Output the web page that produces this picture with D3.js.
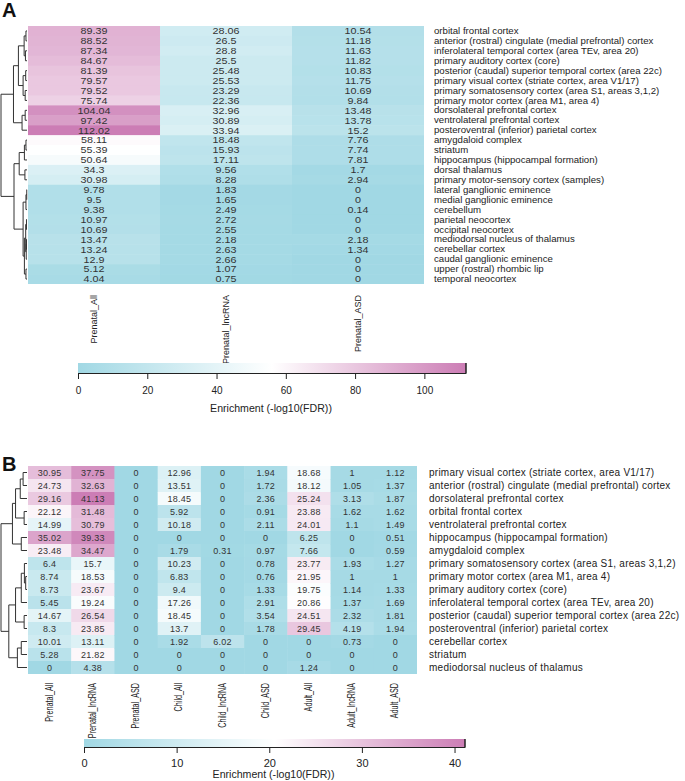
<!DOCTYPE html>
<html><head><meta charset="utf-8">
<script src="https://cdn.jsdelivr.net/npm/d3@7"></script>
<style>body{margin:0;background:#fff}svg{display:block;font-family:"Liberation Sans",Arial,sans-serif}</style>
</head><body><svg id="c" width="685" height="781"></svg>
<script>
// ---------- Panel A data ----------
const rowsA = ["orbital frontal cortex","anterior (rostral) cingulate (medial prefrontal) cortex","inferolateral temporal cortex (area TEv, area 20)","primary auditory cortex (core)","posterior (caudal) superior temporal cortex (area 22c)","primary visual cortex (striate cortex, area V1/17)","primary somatosensory cortex (area S1, areas 3,1,2)","primary motor cortex (area M1, area 4)","dorsolateral prefrontal cortex","ventrolateral prefrontal cortex","posteroventral (inferior) parietal cortex","amygdaloid complex","striatum","hippocampus (hippocampal formation)","dorsal thalamus","primary motor-sensory cortex (samples)","lateral ganglionic eminence","medial ganglionic eminence","cerebellum","parietal neocortex","occipital neocortex","mediodorsal nucleus of thalamus","cerebellar cortex","caudal ganglionic eminence","upper (rostral) rhombic lip","temporal neocortex"];
const colsA = ["Prenatal_All","Prenatal_lncRNA","Prenatal_ASD"];
const prenatalAllA = [89.39,88.52,87.34,84.67,81.39,79.57,79.52,75.74,104.04,97.42,112.02,58.11,55.39,50.64,34.3,30.98,9.78,9.5,9.38,10.97,10.69,13.47,13.24,12.9,5.12,4.04];
const prenatalLncA = [28.06,26.5,28.8,25.5,25.48,25.53,23.29,22.36,32.96,30.89,33.94,18.48,15.93,17.11,9.56,8.28,1.83,1.65,2.49,2.72,2.55,2.18,2.63,2.66,1.07,0.75];
const prenatalAsdA = [10.54,11.18,11.63,11.82,10.83,11.75,10.69,9.84,13.48,13.78,15.2,7.76,7.74,7.81,1.7,2.94,0,0,0.14,0,0,2.18,1.34,0,0,0];
const ticksA = [0,20,40,60,80,100];
// dendrogram: [mergeHeight, left, right], leaves = row index
const treeA = [1.0,
  [0.52,
    [0.33, [0.11,[0.04,0,1],[0.06,2,3]], [0.15,[0.05,4,5],[0.07,6,7]]],
    [0.19, [0.07,8,9], 10]],
  [0.5,
    [0.3, [0.1,[0.04,11,12],13], [0.08,14,15]],
    [0.15, [0.04,[0.01,16,17],18], [0.1,[0.05,[0.02,19,20],[0.03,[0.02,21,22],23]],[0.04,24,25]]]]];

// ---------- Panel B data ----------
const rowsB = ["primary visual cortex (striate cortex, area V1/17)","anterior (rostral) cingulate (medial prefrontal) cortex","dorsolateral prefrontal cortex","orbital frontal cortex","ventrolateral prefrontal cortex","hippocampus (hippocampal formation)","amygdaloid complex","primary somatosensory cortex (area S1, areas 3,1,2)","primary motor cortex (area M1, area 4)","primary auditory cortex (core)","inferolateral temporal cortex (area TEv, area 20)","posterior (caudal) superior temporal cortex (area 22c)","posteroventral (inferior) parietal cortex","cerebellar cortex","striatum","mediodorsal nucleus of thalamus"];
const colsB = ["Prenatal_All","Prenatal_lncRNA","Prenatal_ASD","Child_All","Child_lncRNA","Child_ASD","Adult_All","Adult_lncRNA","Adult_ASD"];
const prenatalAllB = [30.95,24.73,29.16,22.12,14.99,35.02,23.48,6.4,8.74,8.73,5.45,14.67,8.3,10.01,5.28,0];
const prenatalLncB = [37.75,32.63,41.13,31.48,30.79,39.33,34.47,15.7,18.53,23.67,19.24,26.54,23.85,13.11,21.82,4.38];
const prenatalAsdB = [0,0,0,0,0,0,0,0,0,0,0,0,0,0,0,0];
const childAllB = [12.96,13.51,18.45,5.92,10.18,0,1.79,10.23,6.83,9.4,17.26,18.45,13.7,1.92,0,0];
const childLncB = [0,0,0,0,0,0,0.31,0,0,0,0,0,0,6.02,0,0];
const childAsdB = [1.94,1.72,2.36,0.91,2.11,0,0.97,0.78,0.76,1.33,2.91,3.54,1.78,0,0,0];
const adultAllB = [18.68,18.12,25.24,23.88,24.01,6.25,7.66,23.77,21.95,19.75,20.86,24.51,29.45,0,0,1.24];
const adultLncB = [1,1.05,3.13,1.62,1.1,0,0,1.93,1,1.14,1.37,2.32,4.19,0.73,0,0];
const adultAsdB = [1.12,1.37,1.87,1.62,1.49,0.51,0.59,1.27,1,1.33,1.69,1.81,1.94,0,0,0];
const ticksB = [0,10,20,30,40];
const treeB = [1.0,
  [0.56,
    [0.44, [0.26,[0.15,0,1],2], [0.11,3,4]],
    [0.22,5,6]],
  [0.7,
    [0.44, [0.22,[0.1,7,[0.05,8,9]],10], [0.11,11,12]],
    [0.37, [0.22,13,14], 15]]];

// ---------- drawing ----------
const svg = d3.select("#c");
const LOW = "#a1d8e4", MID = "#ffffff", HIGH = "#cc7db5";

function drawPanel(o, id) {
  const g = svg.append("g");
  const x = d3.scaleBand().domain(o.cols).range([o.x0, o.x1]);
  const y = d3.scaleBand().domain(d3.range(o.rows.length)).range([o.y0, o.y1]);
  const max = d3.max(o.series.flat());
  const color = d3.scaleLinear().domain([0, max / 2, max]).range([LOW, MID, HIGH]);

  o.cols.forEach((c, j) => {
    const gc = g.append("g");
    gc.selectAll("rect").data(o.series[j]).join("rect")
      .attr("x", x(c)).attr("y", (d, i) => y(i))
      .attr("width", x.bandwidth() + (j < o.cols.length - 1 ? 0.5 : 0))
      .attr("height", (d, i) => y.bandwidth() + (i < o.rows.length - 1 ? 0.5 : 0))
      .attr("fill", d => color(d));
    gc.selectAll("text").data(o.series[j]).join("text")
      .attr("transform", (d, i) => `translate(${x(c) + x.bandwidth() / 2},${y(i) + y.bandwidth() / 2}) scale(${o.valSX},1)`)
      .attr("dy", "0.36em").attr("text-anchor", "middle")
      .style("font-size", o.valSize + "px").style("letter-spacing", o.valLS + "px")
      .attr("fill", "#333").text(d => String(d));
  });

  // row labels
  g.append("g").selectAll("text").data(o.rows).join("text")
    .attr("transform", (d, i) => `translate(${o.labX},${y(i) + y.bandwidth() / 2}) scale(${o.labSX},1)`)
    .attr("dy", "0.36em")
    .style("font-size", o.labSize + "px").style("letter-spacing", o.labLS + "px")
    .attr("fill", "#222").text(d => d);

  // column labels
  g.append("g").selectAll("text").data(o.cols).join("text")
    .attr("transform", d => `translate(${x(d) + x.bandwidth() / 2 + 3},${o.colY}) rotate(-90) scale(${o.colSX},1)`)
    .attr("text-anchor", "end")
    .style("font-size", o.colSize + "px").attr("fill", "#222").text(d => d);

  // dendrogram
  const root = d3.hierarchy(o.tree, d => Array.isArray(d) ? d.slice(1) : null);
  root.eachAfter(n => {
    if (n.children) { n.yy = d3.mean(n.children, c => c.yy); n.hh = n.data[0]; }
    else { n.yy = y(n.data) + y.bandwidth() / 2; n.hh = 0; }
  });
  const dx = d3.scaleLinear().domain([0, 1]).range([o.x0 - 1, o.dendX]);
  g.append("g").selectAll("path").data(root.descendants().filter(n => n.children)).join("path")
    .attr("d", n => {
      const [a, b] = n.children;
      return `M${dx(a.hh)},${a.yy}H${dx(n.hh)}V${b.yy}H${dx(b.hh)}`;
    })
    .attr("fill", "none").attr("stroke", "#333").attr("stroke-width", 1);

  // color key
  const defs = svg.append("defs");
  const grad = defs.append("linearGradient").attr("id", "grad" + id);
  color.domain().forEach((v, k) => grad.append("stop")
    .attr("offset", v / max).attr("stop-color", color.range()[k]));
  const kx = d3.scaleLinear().domain([0, max]).range([o.kx0, o.kx1]);
  g.append("rect").attr("x", o.kx0).attr("y", o.ky0).attr("width", o.kx1 - o.kx0)
    .attr("height", o.ky1 - o.ky0).attr("fill", `url(#grad${id})`);
  g.append("line").attr("x1", o.kx1).attr("x2", o.kx1).attr("y1", o.ky0).attr("y2", o.ky1)
    .attr("stroke", "#222").attr("stroke-width", 1.5);
  const ax = g.append("g").attr("transform", `translate(0,${o.ky1})`)
    .call(d3.axisBottom(kx).tickValues(o.ticks).tickSize(6).tickSizeOuter(0).tickPadding(o.tickPad));
  ax.selectAll("text").style("font-size", o.tickSize + "px").attr("fill", "#222")
    .style("font-family", '"Liberation Sans",Arial,sans-serif');
  ax.selectAll("line,path").attr("stroke", "#222");
  g.append("text").attr("x", (o.kx0 + o.kx1) / 2 - 1).attr("y", o.titleY).attr("text-anchor", "middle")
    .style("font-size", o.titleSize + "px").attr("fill", "#222").text("Enrichment (-log10(FDR))");

  g.append("text").attr("x", 2).attr("y", o.letterY).style("font-size", "20px").style("font-weight", "bold")
    .attr("fill", "#111").text(o.letter);
}

drawPanel({
  letter: "A", letterY: 17,
  rows: rowsA, cols: colsA, series: [prenatalAllA, prenatalLncA, prenatalAsdA], tree: treeA,
  x0: 28, x1: 424, y0: 26, y1: 284, dendX: 1,
  valSize: 9.2, valSX: 1.17, valLS: 0, labX: 434, labSize: 8.6, labSX: 1.12, labLS: 0,
  colY: 295, colSize: 9, colSX: 1,
  kx0: 78, kx1: 466, ky0: 363, ky1: 373, ticks: ticksA, tickPad: 8, tickSize: 10, titleY: 412, titleSize: 10.6
}, "A");

drawPanel({
  letter: "B", letterY: 471,
  rows: rowsB, cols: colsB,
  series: [prenatalAllB, prenatalLncB, prenatalAsdB, childAllB, childLncB, childAsdB, adultAllB, adultLncB, adultAsdB],
  tree: treeB,
  x0: 28, x1: 417, y0: 466, y1: 674, dendX: 1,
  valSize: 9, valSX: 1, valLS: 0.25, labX: 429, labSize: 10, labSX: 1, labLS: 0.25,
  colY: 683, colSize: 10, colSX: 0.72,
  kx0: 84, kx1: 465, ky0: 739, ky1: 747, ticks: ticksB, tickPad: 6, tickSize: 11, titleY: 778, titleSize: 10.6
}, "B");
</script>
</body></html>
